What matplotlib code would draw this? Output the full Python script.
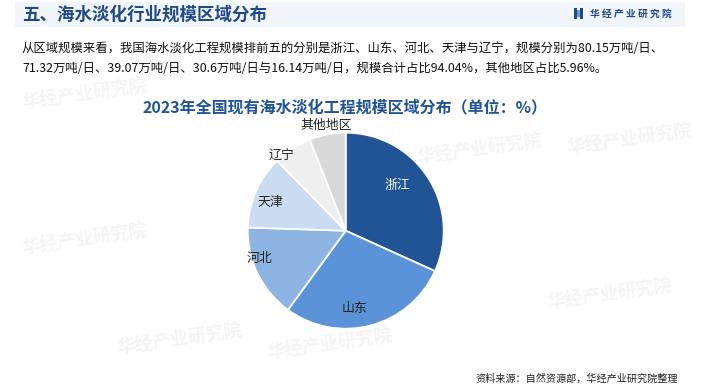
import matplotlib
matplotlib.use("Agg")
import matplotlib.pyplot as plt
import matplotlib.patches as mpatches
import numpy as np

plt.rcParams['font.family'] = ['Noto Sans CJK SC', 'DejaVu Sans']

# ---- data ----
regions = ['浙江', '山东', '河北', '天津', '辽宁', '其他地区']
scale = [80.15, 71.32, 39.07, 30.6, 16.14, 15.04]   # 万吨/日 (其他 derived from 5.96%)
colors = ['#215495', '#5B93D8', '#8EB4E4', '#CADBF2', '#EFEFEF', '#D9D9D9']
label_colors = ['white', '#222222', '#222222', '#222222', '#222222', '#222222']
label_dist = [0.70, 0.80, 0.92, 0.82, 1.0, 1.09]
label_ang_shift = [8, -8, -8, 3, 8, 0]

header = '五、海水淡化行业规模区域分布'
para1 = '从区域规模来看，我国海水淡化工程规模排前五的分别是浙江、山东、河北、天津与辽宁，规模分别为80.15万吨/日、'
para2 = '71.32万吨/日、39.07万吨/日、30.6万吨/日与16.14万吨/日，规模合计占比94.04%，其他地区占比5.96%。'
title = '2023年全国现有海水淡化工程规模区域分布（单位：%）'
source = '资料来源：自然资源部，华经产业研究院整理'
brand = '华 经 产 业 研 究 院'

W, H = 701, 389
fig = plt.figure(figsize=(W / 100, H / 100), dpi=100)
fig.patch.set_facecolor('white')

def fx(x):
    return x / W

def fy(y):
    return 1 - y / H

# faint watermarks
for (x, y) in [(85, 95), (480, 150), (630, 140), (85, 240), (180, 340), (610, 295), (330, 345)]:
    fig.text(fx(x), fy(y), '华经产业研究院', fontsize=13, color='#F5F5F5', rotation=8,
             ha='center', va='center', fontweight='bold', zorder=0)

# header band
fig.patches.append(mpatches.Rectangle((fx(15), fy(27)), fx(685) - fx(15), (27 - 2) / H,
                                      transform=fig.transFigure, facecolor='#F1F5FC',
                                      edgecolor='none', zorder=1))
fig.text(fx(22), fy(14.5), header, fontsize=12.6, fontweight='bold', color='#1F4A85',
         ha='left', va='center', zorder=2)

# brand logo
fig.patches.append(mpatches.Rectangle((fx(574), fy(19)), 3 / W, 11 / H, transform=fig.transFigure,
                                      facecolor='#1F4A85', edgecolor='none', zorder=2))
fig.patches.append(mpatches.Rectangle((fx(580), fy(19)), 3 / W, 11 / H, transform=fig.transFigure,
                                      facecolor='#1F4A85', edgecolor='none', zorder=2))
fig.patches.append(mpatches.Rectangle((fx(577), fy(17)), 3 / W, 7 / H, transform=fig.transFigure,
                                      facecolor='#6F9BD6', edgecolor='none', zorder=2))
fig.text(fx(590), fy(13.5), brand, fontsize=7, fontweight='bold', color='#1F4A85',
         ha='left', va='center', zorder=2)

# paragraph
fig.text(fx(22), fy(48), para1, fontsize=8.9, color='#111111', ha='left', va='center', zorder=2)
fig.text(fx(22), fy(68), para2, fontsize=8.9, color='#111111', ha='left', va='center', zorder=2)

# chart title
fig.text(fx(345), fy(107), title, fontsize=11.5, fontweight='bold', color='#215495',
         ha='center', va='center', zorder=2)

# pie
cx, cy, r = 345.7, 230.7, 98
ax = fig.add_axes([fx(cx - r), fy(cy + r), 2 * r / W, 2 * r / H])
ax.set_zorder(3)
wedges, _ = ax.pie(scale, colors=colors, startangle=90, counterclock=False, radius=1,
                   wedgeprops=dict(edgecolor='white', linewidth=1.3))
ax.set_xlim(-1, 1)
ax.set_ylim(-1, 1)
ax.set_aspect('equal')
ax.axis('off')
for w, lab, d, s, c in zip(wedges, regions, label_dist, label_ang_shift, label_colors):
    ang = np.deg2rad((w.theta1 + w.theta2) / 2 + s)
    ax.text(d * np.cos(ang), d * np.sin(ang), lab, fontsize=9.3, color=c,
            ha='center', va='center')

# source
fig.text(fx(678), fy(379), source, fontsize=7.3, color='#222222', ha='right', va='center', zorder=2)

fig.savefig('out.png', dpi=100)
